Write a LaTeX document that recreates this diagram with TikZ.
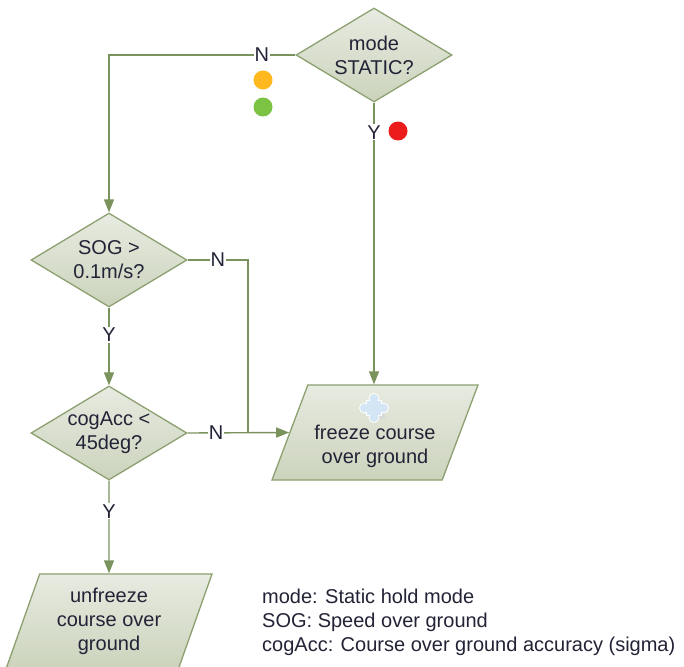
\documentclass[tikz,border=0pt]{standalone}
\usepackage{fontspec}
\setmainfont{Liberation Sans}
\usetikzlibrary{shapes.geometric,arrows.meta}
\definecolor{flowline}{RGB}{122,146,92}
\definecolor{flowedge}{RGB}{140,160,112}
\definecolor{flowtop}{RGB}{232,235,225}
\definecolor{flowbot}{RGB}{203,211,188}
\definecolor{flowtext}{RGB}{35,35,55}
\definecolor{amber}{RGB}{255,184,30}
\definecolor{go}{RGB}{124,194,67}
\definecolor{stop}{RGB}{236,28,28}
\definecolor{puzzle}{RGB}{212,229,246}
\tikzset{
  decision/.style={diamond, draw=flowedge, line width=1.3pt, top color=flowtop, bottom color=flowbot,
    aspect=1.66, minimum width=156pt, minimum height=94pt, inner sep=0pt, align=center},
  io/.style={trapezium, trapezium left angle=63.2, trapezium right angle=116.8, trapezium stretches body=true,
    draw=flowedge, line width=1.3pt, top color=flowtop, bottom color=flowbot,
    minimum width=206pt, minimum height=95pt, inner xsep=-8pt, inner ysep=0pt, align=center},
  flow/.style={draw=flowline, line width=1.4pt, -{Triangle[length=13pt,width=10pt]}},
  link/.style={draw=flowline, line width=1.4pt},
  yn/.style={fill=white, inner sep=1pt, text=flowtext},
  dot/.style={circle, inner sep=0pt, minimum size=19pt}
}
\begin{document}
\begin{tikzpicture}[x=1pt, y=-1pt, font=\fontsize{20}{24}\selectfont, text=flowtext]
  \useasboundingbox (0,0) rectangle (684,666);
  \fill[white] (0,0) rectangle (684,666);
  \clip (0,0) rectangle (684,666);
  % decisions
  \node[decision] (mode) at (374,55) {mode\\STATIC?};
  \node[decision] (sog) at (109,260) {SOG >\\0.1m/s?};
  \node[decision] (cog) at (109,433) {cogAcc <\\45deg?};
  % outputs
  \node[io] (freeze) at (375,432.5) {\strut\\[2pt]freeze course\\over ground};
  \node[io] (unfreeze) at (109,621.5) {unfreeze\\course over\\ground};
  \node[anchor=west, align=left, inner sep=0pt] (legend) at (262,622)
    {mode: Static hold mode\\SOG: Speed over ground\\cogAcc: Course over ground accuracy (sigma)};
  % connectors
  \coordinate (join) at (248,433);
  \draw[flow] (mode.west) -| node[yn, pos=0.09] {N} (sog.north);
  \draw[flow] (mode.south) -- node[yn, pos=0.105] {Y} (mode.south |- freeze.north);
  \draw[link] (sog.east) -| node[yn, pos=0.25] {N} (join);
  \draw[flow] (cog.east) -- node[yn, pos=0.28] {N} (freeze.west);
  \draw[flow] (sog.south) -- node[yn, pos=0.35] {Y} (cog.north);
  \draw[flow] (cog.south) -- node[yn, pos=0.33] {Y} (unfreeze.north);
  % lights
  \node[dot, fill=amber] (amberdot) at (263,80) {};
  \node[dot, fill=go] (godot) at (263,107) {};
  \node[dot, fill=stop] (stopdot) at (398,131) {};
  % puzzle icon
  \begin{scope}[shift={(374,408)}]
    \fill[black!15] (-4,-4) rectangle (11,11);
    \fill[white] (-8,-8) rectangle (8,8);
    \foreach \a in {0,90,180,270}
      \fill[white] (\a:9.5) circle (5.5);
    \fill[puzzle] (-7,-7) rectangle (7,7);
    \foreach \a in {0,90,180,270}
      \fill[puzzle] (\a:9.5) circle (4.5);
  \end{scope}
\end{tikzpicture}
\end{document}
